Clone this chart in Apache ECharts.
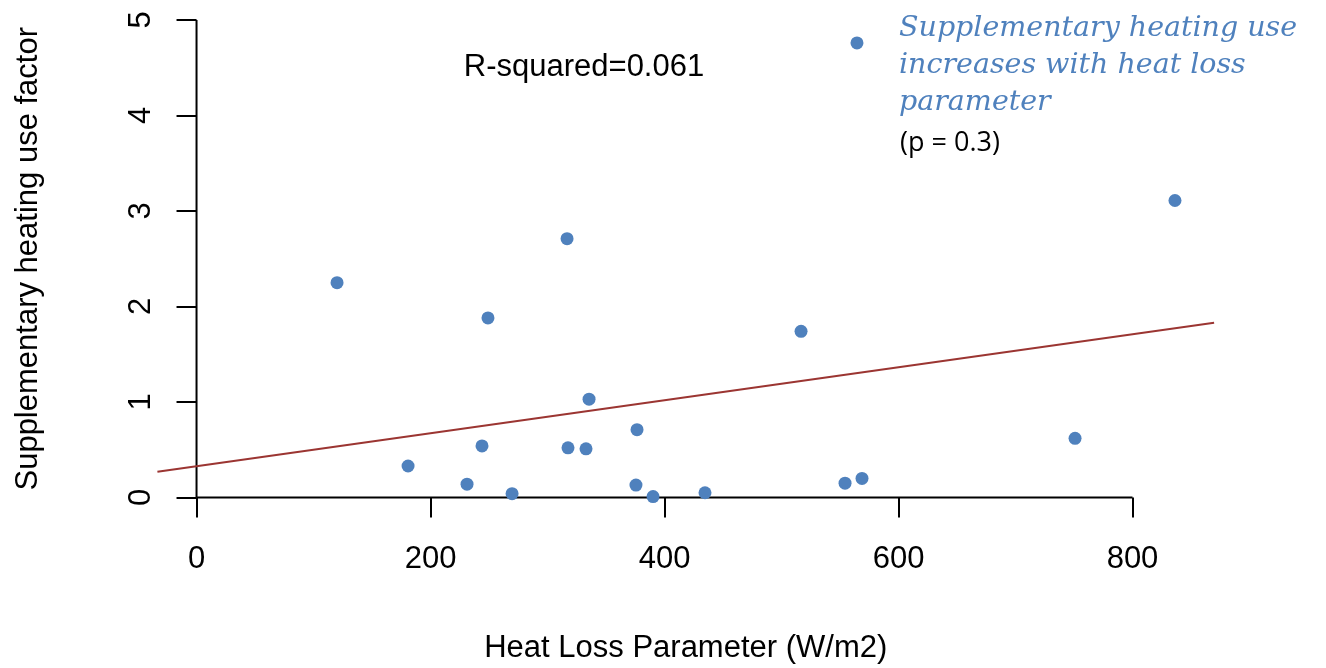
<!DOCTYPE html>
<html>
<head>
<meta charset="utf-8">
<script src="https://cdn.jsdelivr.net/npm/echarts@6/dist/echarts.min.js"></script>
<style>
html,body{margin:0;padding:0;background:#fff;}
#chart{width:1326px;height:668px;}
</style>
</head>
<body>
<div id="chart"></div>
<script>
// Data
const heatLoss = [120.1,180.8,231.2,244.0,249.1,269.7,316.7,317.5,332.9,335.5,375.6,376.5,390.2,434.6,516.7,554.3,568.8,564.5,750.9,836.3];
const heatingFactor = [2.25,0.33,0.14,0.54,1.88,0.04,2.71,0.52,0.51,1.03,0.13,0.71,0.01,0.05,1.74,0.15,0.20,4.76,0.62,3.11];
// Fitted regression line (end points across the plot region)
const fitX = [-33.45, 869.75];
const fitY = [0.27, 1.83];
// Axis ticks
const xTicks = [0, 200, 400, 600, 800];
const yTicks = [0, 1, 2, 3, 4, 5];
const xRange = [-33.45, 869.75];
const yRange = [-0.2, 5.2];
const rSquaredText = 'R-squared=0.061';
const noteLines = ['Supplementary heating use', 'increases with heat loss', 'parameter'];
const pText = '(p = 0.3)';

const chart = echarts.init(document.getElementById('chart'), null, {renderer: 'canvas'});
const FONT = '"Liberation Sans", Arial, sans-serif';
const SERIF = '"DejaVu Serif", serif';

const option = {
  animation: false,
  backgroundColor: '#ffffff',
  grid: {left: 157.4, right: 111.9, top: 0.9, bottom: 151.4, containLabel: false, outerBoundsMode: 'none'},
  xAxis: {
    type: 'value', min: xRange[0], max: xRange[1],
    name: 'Heat Loss Parameter (W/m2)', nameLocation: 'middle', nameGap: 116, nameMoveOverlap: false,
    nameTextStyle: {fontFamily: FONT, fontSize: 31, color: '#000'},
    axisLine: {show: true, onZero: true, lineStyle: {color: 'rgba(0,0,0,0)', width: 2}},
    axisTick: {show: true, inside: false, length: 20, customValues: xTicks, lineStyle: {color: '#000', width: 2}},
    axisLabel: {show: true, customValues: xTicks, margin: 27, fontFamily: FONT, fontSize: 31, color: '#000'},
    splitLine: {show: false}
  },
  yAxis: {
    type: 'value', min: yRange[0], max: yRange[1],
    name: 'Supplementary heating use factor', nameLocation: 'middle', nameGap: 113, nameMoveOverlap: false,
    nameTextStyle: {fontFamily: FONT, fontSize: 31, color: '#000'},
    axisLine: {show: true, onZero: true, lineStyle: {color: 'rgba(0,0,0,0)', width: 2}},
    axisTick: {show: true, inside: false, length: 20, customValues: yTicks, lineStyle: {color: '#000', width: 2}},
    axisLabel: {show: true, customValues: yTicks, rotate: 90, margin: 0, fontFamily: FONT, fontSize: 31, color: '#000'},
    splitLine: {show: false}
  },
  series: [
    {
      name: 'xAxisLine', type: 'line', silent: true, symbol: 'none',
      data: [[xTicks[0], 0], [xTicks[xTicks.length - 1], 0]],
      lineStyle: {color: '#000', width: 2}, z: 1
    },
    {
      name: 'yAxisLine', type: 'line', silent: true, symbol: 'none',
      data: [[0, yTicks[0]], [0, yTicks[yTicks.length - 1]]],
      lineStyle: {color: '#000', width: 2}, z: 1
    },
    {
      name: 'fit', type: 'line', silent: true, symbol: 'none',
      data: fitX.map((x, i) => [x, fitY[i]]),
      lineStyle: {color: '#9B3532', width: 2}, z: 2
    },
    {
      name: 'points', type: 'scatter', symbol: 'circle', symbolSize: 13,
      data: heatLoss.map((x, i) => [x, heatingFactor[i]]),
      itemStyle: {color: '#4F81BD', opacity: 1}, z: 3
    }
  ],
  graphic: [
    {type: 'text', x: 584, y: 67, style: {text: rSquaredText, fontFamily: FONT, fontSize: 31, fill: '#000', align: 'center', verticalAlign: 'middle'}},
    {type: 'text', x: 899, y: 29, style: {text: noteLines[0], fontFamily: SERIF, fontStyle: 'italic', fontSize: 28.5, fill: '#4F81BD', align: 'left', verticalAlign: 'middle'}},
    {type: 'text', x: 899, y: 66, style: {text: noteLines[1], fontFamily: SERIF, fontStyle: 'italic', fontSize: 28.5, fill: '#4F81BD', align: 'left', verticalAlign: 'middle'}},
    {type: 'text', x: 899, y: 103, style: {text: noteLines[2], fontFamily: SERIF, fontStyle: 'italic', fontSize: 28.5, fill: '#4F81BD', align: 'left', verticalAlign: 'middle'}},
    {type: 'text', x: 900, y: 143, style: {text: pText, fontFamily: '"Open Sans", sans-serif', fontSize: 27, fill: '#000', align: 'left', verticalAlign: 'middle'}}
  ]
};
chart.setOption(option);
</script>
</body>
</html>
